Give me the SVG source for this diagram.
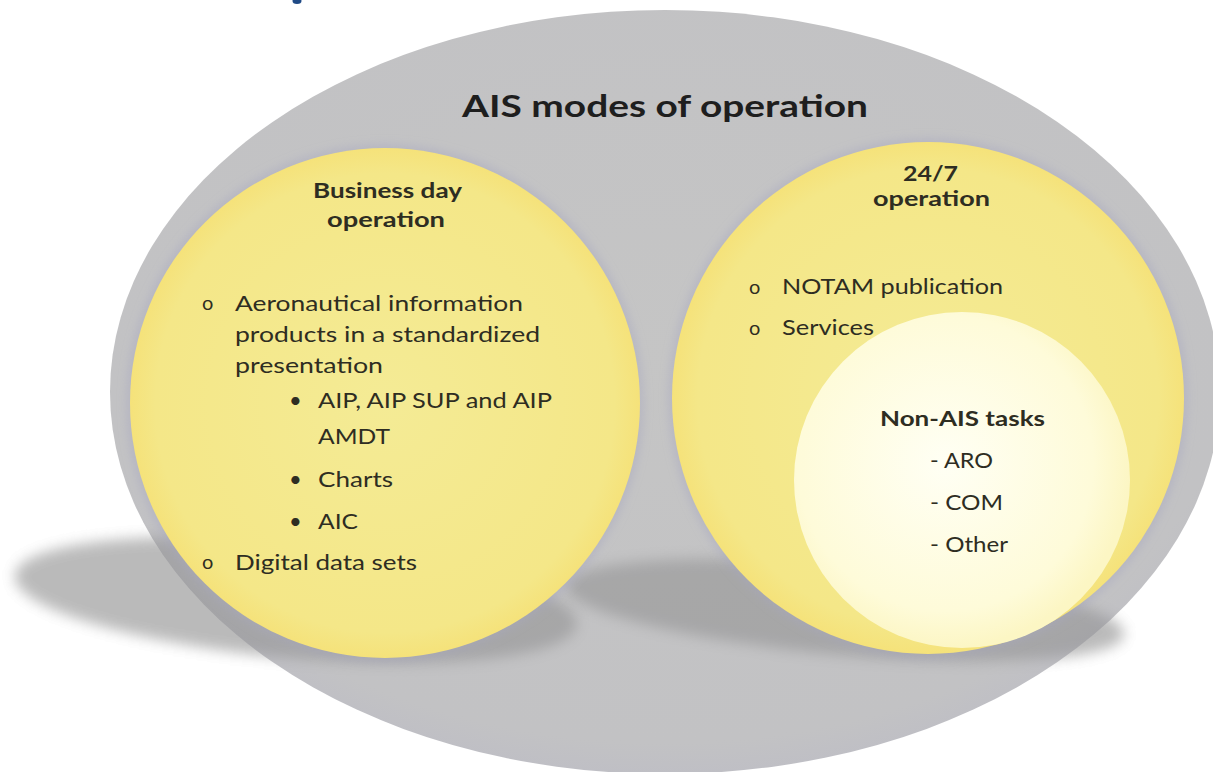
<svg xmlns="http://www.w3.org/2000/svg" width="1213" height="772" viewBox="0 0 1213 772">
  <style>
    .t { font-family: Lato, "Open Sans", "Liberation Sans", sans-serif; fill: #2e2d22; }
    .b { font-weight: 700; font-size: 20px; }
    .n { font-size: 22px; }
    .title { font-family: Lato, "Open Sans", "Liberation Sans", sans-serif; font-weight: 700; font-size: 31px; fill: #1e1e1e; }
  </style>
  <defs>
    <filter id="blurShadow" x="-20%" y="-60%" width="140%" height="220%">
      <feGaussianBlur stdDeviation="7"/>
    </filter>
    <filter id="rim" x="-10%" y="-10%" width="120%" height="120%">
      <feGaussianBlur stdDeviation="4"/>
    </filter>
    <radialGradient id="grayFill" cx="0.5" cy="0.45" r="0.6">
      <stop offset="0" stop-color="#c3c3c3"/>
      <stop offset="0.85" stop-color="#c0c0c2"/>
      <stop offset="1" stop-color="#b9b9c4"/>
    </radialGradient>
    <radialGradient id="yellowFill" cx="0.5" cy="0.5" r="0.5">
      <stop offset="0" stop-color="#f4eb95"/>
      <stop offset="0.9" stop-color="#f4e788"/>
      <stop offset="1" stop-color="#f5e27a"/>
    </radialGradient>
    <radialGradient id="creamFill" cx="0.45" cy="0.45" r="0.55">
      <stop offset="0" stop-color="#fffff4"/>
      <stop offset="0.8" stop-color="#fefbd9"/>
      <stop offset="1" stop-color="#fcf6c4"/>
    </radialGradient>
  </defs>

  <rect x="0" y="0" width="1213" height="772" fill="#ffffff"/>
  <ellipse cx="297" cy="1" rx="4.5" ry="3" fill="#1f4a86"/>

  <g id="shadows">
    <ellipse cx="296" cy="600" rx="282" ry="58" transform="rotate(5 296 600)" fill="#000000" fill-opacity="0.15" filter="url(#blurShadow)"/>
    <ellipse cx="845" cy="610" rx="280" ry="45" transform="rotate(5 845 610)" fill="#000000" fill-opacity="0.15" filter="url(#blurShadow)"/>
  </g>

  <g id="ais-modes">
    <ellipse cx="665" cy="392" rx="555" ry="382" fill="url(#grayFill)" fill-opacity="0.97"/>
    <text class="title" x="462" y="117" textLength="406" lengthAdjust="spacingAndGlyphs">AIS modes of operation</text>
  </g>

  <g id="shadows-inner">
    <ellipse cx="296" cy="600" rx="282" ry="58" transform="rotate(5 296 600)" fill="#000000" fill-opacity="0.14" filter="url(#blurShadow)"/>
    <ellipse cx="845" cy="610" rx="280" ry="45" transform="rotate(5 845 610)" fill="#000000" fill-opacity="0.14" filter="url(#blurShadow)"/>
  </g>

  <g id="connectors"></g>

  <g id="business-day">
    <circle cx="385" cy="403" r="259" fill="#a9a9bf" fill-opacity="0.45" filter="url(#rim)"/>
    <circle cx="385" cy="403" r="255" fill="url(#yellowFill)"/>
    <text class="t b" x="313" y="198" textLength="149" lengthAdjust="spacingAndGlyphs">Business day</text>
    <text class="t b" x="327" y="227" textLength="118" lengthAdjust="spacingAndGlyphs">operation</text>
    <text class="t" x="202" y="310" font-size="20">o</text>
    <text class="t n" x="235" y="311" textLength="288" lengthAdjust="spacingAndGlyphs">Aeronautical information</text>
    <text class="t n" x="235" y="342" textLength="305" lengthAdjust="spacingAndGlyphs">products in a standardized</text>
    <text class="t n" x="235" y="373" textLength="148" lengthAdjust="spacingAndGlyphs">presentation</text>
    <text class="t n" x="289" y="408">•</text>
    <text class="t n" x="318" y="408" textLength="234" lengthAdjust="spacingAndGlyphs">AIP, AIP SUP and AIP</text>
    <text class="t n" x="318" y="444" textLength="72" lengthAdjust="spacingAndGlyphs">AMDT</text>
    <text class="t n" x="289" y="487">•</text>
    <text class="t n" x="318" y="487" textLength="75" lengthAdjust="spacingAndGlyphs">Charts</text>
    <text class="t n" x="289" y="529">•</text>
    <text class="t n" x="318" y="529" textLength="40" lengthAdjust="spacingAndGlyphs">AIC</text>
    <text class="t" x="202" y="569" font-size="20">o</text>
    <text class="t n" x="235" y="570" textLength="182" lengthAdjust="spacingAndGlyphs">Digital data sets</text>
  </g>

  <g id="operation-247">
    <circle cx="928" cy="398" r="260" fill="#a9a9bf" fill-opacity="0.45" filter="url(#rim)"/>
    <circle cx="928" cy="398" r="256" fill="url(#yellowFill)"/>
    <text class="t b" x="903" y="181" textLength="55" lengthAdjust="spacingAndGlyphs">24/7</text>
    <text class="t b" x="873" y="206" textLength="117" lengthAdjust="spacingAndGlyphs">operation</text>
    <text class="t" x="749" y="294" font-size="20">o</text>
    <text class="t n" x="782" y="294" textLength="221" lengthAdjust="spacingAndGlyphs">NOTAM publication</text>
    <text class="t" x="749" y="335" font-size="20">o</text>
    <text class="t n" x="782" y="335" textLength="92" lengthAdjust="spacingAndGlyphs">Services</text>
  </g>

  <g id="non-ais">
    <circle cx="962" cy="480" r="168" fill="url(#creamFill)"/>
    <text class="t b" x="880" y="426" textLength="165" lengthAdjust="spacingAndGlyphs">Non-AIS tasks</text>
    <text class="t n" x="930" y="468" textLength="63" lengthAdjust="spacingAndGlyphs">- ARO</text>
    <text class="t n" x="930" y="510" textLength="73" lengthAdjust="spacingAndGlyphs">- COM</text>
    <text class="t n" x="930" y="552" textLength="78" lengthAdjust="spacingAndGlyphs">- Other</text>
  </g>
</svg>
